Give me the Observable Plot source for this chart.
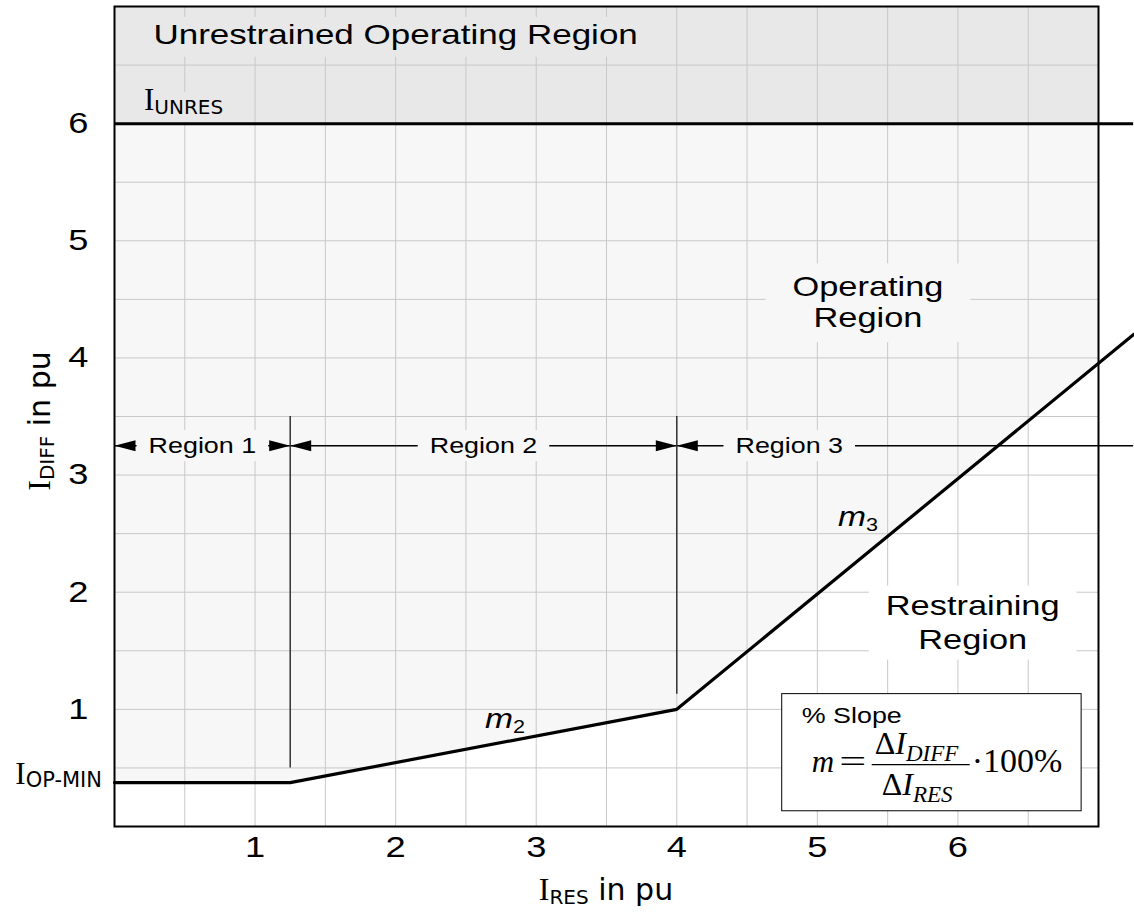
<!DOCTYPE html>
<html>
<head>
<meta charset="utf-8">
<script src="https://cdn.jsdelivr.net/npm/d3@7"></script>
<script src="https://cdn.jsdelivr.net/npm/@observablehq/plot@0.6"></script>
<style>
html,body{margin:0;padding:0;background:#fff;}
#chart svg{display:block;}
</style>
</head>
<body>
<div id="chart"></div>
<script>
// ---------- data ----------
const xTicks = [1, 2, 3, 4, 5, 6];
const yTicks = [1, 2, 3, 4, 5, 6];
const xGrid = [0.5, 1, 1.5, 2, 2.5, 3, 3.5, 4, 4.5, 5, 5.5, 6, 6.5];
const yGrid = [0.5, 1, 1.5, 2, 2.5, 3, 3.5, 4, 4.5, 5, 5.5, 6, 6.5];
const curveRes = [0, 1.25, 4, 7.25];
const curveDiff = [0.375, 0.375, 1, 4.2];
const iUnres = 6;
const iOpMin = 0.375;
const xDomain = [0, 7];
const yDomain = [0, 7];
const regionBounds = [0, 1.25, 4, 7.25];
const regionNames = ["Region 1", "Region 2", "Region 3"];
const regionArrowY = 3.25;
const dividerX = [1.25, 4];
const dividerBottom = [0.5, 1.13];
const dividerTop = 3.5;

// ---------- annotation layout ----------
const regionLabelX = [0.625, 2.625, 4.8];
const titleLabel = {text: "Unrestrained Operating Region", x: 2.0, y: 6.76};
const operatingLabel = {text: "Operating\nRegion", x: 5.36, y: 4.48};
const restrainingLabel = {text: "Restraining\nRegion", x: 6.105, y: 1.75};
const formulaBox = {x1: 4.75, x2: 6.88, y1: 0.13, y2: 1.13};
const slopeLabels = [{sub: "2", x: 2.64, y: 0.84}, {sub: "3", x: 5.15, y: 2.56}];

const SANS = "'Liberation Sans', Arial, sans-serif";
const WIDE = "'DejaVu Sans', Verdana, sans-serif";
const SERIF = "'Liberation Serif', 'Times New Roman', serif";
const STRETCH = 1.25;

const curve = curveRes.map((x, i) => ({x, y: curveDiff[i]}));
const leftArrow = {draw(ctx) { ctx.moveTo(0, 0); ctx.lineTo(21, -5.5); ctx.lineTo(21, 5.5); ctx.closePath(); }};
const rightArrow = {draw(ctx) { ctx.moveTo(0, 0); ctx.lineTo(-21, -5.5); ctx.lineTo(-21, 5.5); ctx.closePath(); }};

const plot = Plot.plot({
  width: 1134, height: 913,
  marginLeft: 114, marginRight: 36, marginTop: 6, marginBottom: 87,
  style: {fontFamily: SANS, fontSize: "29px", background: "white", overflow: "visible", color: "black"},
  x: {domain: xDomain, ticks: xTicks, tickFormat: d => String(d), tickSize: 0, tickPadding: 10, label: null},
  y: {domain: yDomain, ticks: yTicks, tickFormat: d => String(d), tickSize: 0, tickPadding: 26, label: null},
  marks: [
    Plot.rect([0], {x1: xDomain[0], x2: xDomain[1], y1: iUnres, y2: yDomain[1], fill: "#e8e8e8"}),
    Plot.area(curve, {x1: "x", y1: "y", y2: iUnres, fill: "#f7f7f7", clip: true}),
    Plot.ruleX(xGrid, {stroke: "#c8c8c8", strokeWidth: 1}),
    Plot.ruleY(yGrid, {stroke: "#c8c8c8", strokeWidth: 1}),
    Plot.ruleY([regionArrowY], {x1: regionBounds[0], x2: regionBounds[3], stroke: "black", strokeWidth: 1.5}),
    Plot.text(regionNames, {x: (d, i) => regionLabelX[i], y: regionArrowY, text: d => d, fontSize: 21.5, fill: "black"}),
    Plot.text([titleLabel], {x: "x", y: "y", text: "text", fontSize: 28, fill: "black"}),
    Plot.text([operatingLabel], {x: "x", y: "y", text: "text", fontSize: 27.5, lineHeight: 1.12, fill: "black"}),
    Plot.text([restrainingLabel], {x: "x", y: "y", text: "text", fontSize: 27.5, lineHeight: 1.24, fill: "black"}),
    Plot.dot(regionBounds.slice(0, 3), {x: d => d, y: regionArrowY, symbol: leftArrow, r: 4, fill: "black", stroke: "none"}),
    Plot.dot(regionBounds.slice(1, 3), {x: d => d, y: regionArrowY, symbol: rightArrow, r: 4, fill: "black", stroke: "none"}),
    Plot.ruleX(dividerX, {x: d => d, y1: dividerTop, y2: (d, i) => dividerBottom[i], stroke: "#333", strokeWidth: 1.5}),
    Plot.rect([formulaBox], {x1: "x1", x2: "x2", y1: "y1", y2: "y2", fill: "white", stroke: "black", strokeWidth: 1}),
    Plot.line(curve, {x: "x", y: "y", stroke: "black", strokeWidth: 3.2, strokeLinejoin: "miter"}),
    Plot.ruleY([iUnres], {x1: regionBounds[0], x2: regionBounds[3], stroke: "black", strokeWidth: 3}),
    Plot.frame({stroke: "black", strokeWidth: 2})
  ]
});

document.getElementById("chart").appendChild(plot);

// horizontal stretch of the Arial-like text (the reference is widened)
function stretch(el, s) {
  const t = el.getAttribute("transform");
  if (t) el.setAttribute("transform", t + ` scale(${s},1)`);
  else {
    const x = +el.getAttribute("x") || 0, y = +el.getAttribute("y") || 0;
    el.setAttribute("transform", `translate(${x},${y}) scale(${s},1) translate(${-x},${-y})`);
  }
}
plot.querySelectorAll("text").forEach(el => stretch(el, STRETCH));

// rectangular label backgrounds
function addBg(label, fill, pad) {
  const key = label.replace(/\s/g, "");
  plot.querySelectorAll("text").forEach(t => {
    if (t.textContent.replace(/\s/g, "") !== key) return;
    try {
      const b = t.getBBox();
      const r = document.createElementNS("http://www.w3.org/2000/svg", "rect");
      r.setAttribute("x", b.x - pad.x / STRETCH);
      r.setAttribute("y", b.y - pad.top);
      r.setAttribute("width", b.width + 2 * pad.x / STRETCH);
      r.setAttribute("height", b.height + pad.top + pad.bottom);
      const tr = t.getAttribute("transform");
      if (tr) r.setAttribute("transform", tr);
      r.setAttribute("fill", fill);
      r.setAttribute("stroke", "none");
      t.parentNode.insertBefore(r, t);
    } catch (e) {}
  });
}
regionNames.forEach(n => addBg(n, "#f7f7f7", {x: 12, top: 3, bottom: 4}));
addBg(titleLabel.text, "#e8e8e8", {x: 8, top: 1, bottom: 7});
addBg(operatingLabel.text, "#f7f7f7", {x: 27, top: 8, bottom: 9});
addBg(restrainingLabel.text, "#ffffff", {x: 17, top: 5, bottom: 4});

// rich text annotations (subscripts, mixed fonts)
const X = plot.scale("x").apply, Y = plot.scale("y").apply;
const svg = d3.select(plot);
function rich(x, y, parts, opt = {}) {
  const t = svg.append("text")
    .attr("transform", `translate(${x},${y})${opt.transform || ""}`)
    .attr("text-anchor", opt.anchor || "start")
    .attr("fill", opt.fill || "black");
  if (opt.halo) t.attr("stroke", opt.halo).attr("stroke-width", opt.haloWidth || 14)
    .attr("stroke-linejoin", "round");
  parts.forEach(p => {
    const s = t.append("tspan").text(p.t).attr("font-family", p.f).attr("font-size", p.s);
    if (p.i) s.attr("font-style", "italic");
    if (p.dy) s.attr("dy", p.dy);
  });
  return t;
}
const plotCx = (X(xDomain[0]) + X(xDomain[1])) / 2;
const plotCy = (Y(yDomain[0]) + Y(yDomain[1])) / 2;

// axis labels
rich(plotCx, 900, [
  {t: "I", f: SERIF, s: 32},
  {t: "RES", f: WIDE, s: 20, dy: 4},
  {t: " in pu", f: WIDE, s: 30, dy: -4}
], {anchor: "middle"});
rich(50, plotCy + 5, [
  {t: "I", f: SERIF, s: 32},
  {t: "DIFF", f: WIDE, s: 20, dy: 4},
  {t: " in pu", f: WIDE, s: 30, dy: -4}
], {anchor: "middle", transform: " rotate(-90)"});

// I_UNRES (background copy first, then the text) and I_OP-MIN
const unresParts = [
  {t: "I", f: SERIF, s: 31},
  {t: "UNRES", f: WIDE, s: 20, dy: 4}
];
rich(X(0) + 30, Y(iUnres) - 13, unresParts, {halo: "#e8e8e8", haloWidth: 16, fill: "#e8e8e8"});
rich(X(0) + 30, Y(iUnres) - 13, unresParts);
rich(X(0) - 12, Y(iOpMin) + 2, [
  {t: "I", f: SERIF, s: 31},
  {t: "OP-MIN", f: WIDE, s: 21, dy: 3}
], {anchor: "end"});

// slope labels
slopeLabels.forEach(d => rich(X(d.x), Y(d.y), [
  {t: "m", f: SANS, s: 28, i: true},
  {t: d.sub, f: SANS, s: 18, dy: 5}
], {transform: " scale(1.2,1)"}));

// formula inside the box
const bx = X(formulaBox.x1), by = Y(formulaBox.y2);
rich(bx + 20, by + 29, [{t: "% Slope", f: SANS, s: 21.5}], {transform: ` scale(${STRETCH},1)`});
rich(bx + 30, by + 78, [{t: "m", f: SERIF, s: 31, i: true}]);
rich(bx + 71, by + 78, [{t: "=", f: SERIF, s: 32}], {anchor: "middle", transform: " scale(1.5,1)"});
rich(bx + 93, by + 60, [
  {t: "Δ", f: SERIF, s: 32},
  {t: "I", f: SERIF, s: 32, i: true},
  {t: "DIFF", f: SERIF, s: 23, i: true, dy: 7}
]);
svg.append("line").attr("x1", bx + 90).attr("x2", bx + 188)
  .attr("y1", by + 71).attr("y2", by + 71).attr("stroke", "black").attr("stroke-width", 1.3);
rich(bx + 100, by + 101, [
  {t: "Δ", f: SERIF, s: 32},
  {t: "I", f: SERIF, s: 32, i: true},
  {t: "RES", f: SERIF, s: 23, i: true, dy: 7}
]);
rich(bx + 190, by + 78, [{t: "·100%", f: SERIF, s: 34}]);
</script>
</body>
</html>
